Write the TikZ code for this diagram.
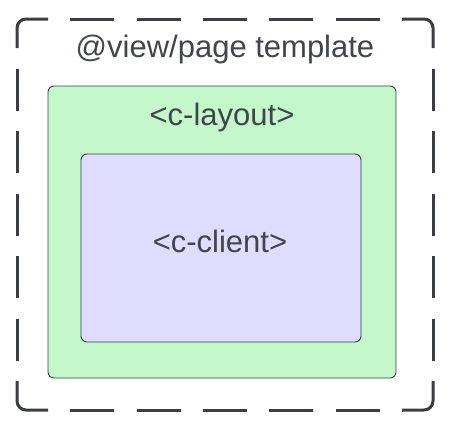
\documentclass[tikz,border=0pt]{standalone}
\usepackage{fontspec}
\setmainfont{Liberation Sans}
\definecolor{strokec}{HTML}{3A3D44}
\definecolor{textc}{HTML}{41454C}
\definecolor{greenf}{HTML}{C4F7C9}
\definecolor{purpf}{HTML}{DEDDFD}
\begin{document}
\begin{tikzpicture}[x=1pt,y=-1pt,
  outerline/.style={draw=strokec,line width=3pt},
  hdash/.style={outerline,dash pattern=on 44pt off 22.33pt,dash phase=44pt},
  vdash/.style={outerline,dash pattern=on 42pt off 20.5pt,dash phase=42pt},
  layoutbox/.style={draw=strokec,line width=0.9pt,fill=greenf,rounded corners=6pt},
  clientbox/.style={draw=strokec,line width=0.9pt,fill=purpf,rounded corners=6pt},
  lbl/.style={text=textc,font=\fontsize{31}{36}\selectfont,inner sep=0pt,anchor=base}]
\useasboundingbox (0,0) rectangle (454,432);
% outer dashed frame: corners
\draw[outerline,rounded corners=9pt] (17,48) -- (17,19) -- (48,19);
\draw[outerline,rounded corners=9pt] (402,19) -- (433,19) -- (433,48);
\draw[outerline,rounded corners=9pt] (433,381) -- (433,410) -- (402,410);
\draw[outerline,rounded corners=9pt] (48,410) -- (17,410) -- (17,381);
% outer dashed frame: sides
\draw[hdash] (48,19) -- (402,19);
\draw[hdash] (48,410) -- (402,410);
\draw[vdash] (17,48) -- (17,381);
\draw[vdash] (433,48) -- (433,381);
\draw[layoutbox] (48,86) rectangle (396,378);
\draw[clientbox] (81,154) rectangle (361,342);
\node[lbl] (t1) at (225,57) {@view/page template};
\node[lbl] (t2) at (222,125) {<c-layout>};
\node[lbl] (t3) at (220,252) {<c-client>};
\end{tikzpicture}
\end{document}
